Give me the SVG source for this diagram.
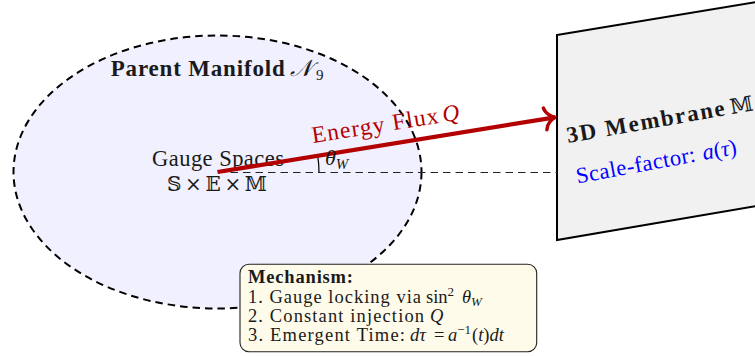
<svg xmlns="http://www.w3.org/2000/svg" width="755" height="356" viewBox="0 0 755 356">
<defs>
<style>
.rm{font-family:"Liberation Serif","DejaVu Serif",serif;}
.it{font-style:italic;}
.bf{font-weight:bold;}
.ds{font-family:"DejaVu Serif","DejaVu Sans",serif;font-weight:normal;font-style:normal;}
.ink{fill:#1a1a1a;}
</style>
<marker id="to" markerUnits="userSpaceOnUse" markerWidth="30" markerHeight="30" viewBox="-15 -15 30 30" refX="0" refY="0" orient="auto">
<path d="M-10,-11 C-9,-5 -3,-1 0,0 C-3,1 -9,5 -10,11" fill="none" stroke="#b30000" stroke-width="3.5" stroke-linecap="round" stroke-linejoin="round"/>
</marker>
</defs>
<rect width="755" height="356" fill="#ffffff"/>

<g id="manifold">
<ellipse cx="217.5" cy="172" rx="204" ry="136.5" fill="#f0f0ff" stroke="#000" stroke-width="2" stroke-dasharray="7.5 5"/>
<text class="rm bf ink" x="110.7" y="76" font-size="23" textLength="174" lengthAdjust="spacing">Parent Manifold</text>
<text class="rm it ink" x="290" y="76" font-size="23">𝒩</text>
<text class="rm ink" x="316" y="80" font-size="15">9</text>
<text class="rm ink" x="152" y="166" font-size="22.5" textLength="132" lengthAdjust="spacing">Gauge Spaces</text>
<text class="ds ink" x="167" y="190.5" font-size="20" textLength="100" lengthAdjust="spacing">𝕊 × 𝔼 × 𝕄</text>
</g>

<g id="membrane">
<polygon points="557,35 760,1.5 760,205.5 557,240" fill="#f1f1f1" stroke="#000" stroke-width="2" stroke-linejoin="miter"/>
<text class="rm bf ink" transform="translate(568,143) rotate(-10)" font-size="23"><tspan textLength="160" lengthAdjust="spacing">3D Membrane</tspan><tspan class="ds" dx="4" font-size="21">𝕄</tspan></text>
<text class="rm" transform="translate(577.5,183.5) rotate(-10.5)" font-size="22.5" fill="#0000ff"><tspan textLength="121" lengthAdjust="spacing">Scale-factor:</tspan><tspan class="it" dx="7">a</tspan>(<tspan class="it">τ</tspan>)</text>
</g>

<g id="connectors">
<line x1="218" y1="172.5" x2="557" y2="172.5" stroke="#222" stroke-width="1" stroke-dasharray="7.5 5"/>
<path d="M319,172 A101,101 0 0 0 317.7,155.9" fill="none" stroke="#000" stroke-width="1.2"/>
<line x1="217.5" y1="172" x2="555" y2="117.3" stroke="#b30000" stroke-width="4.3" marker-end="url(#to)"/>
</g>

<g id="flux-label">
<text class="rm" transform="translate(313,143) rotate(-9)" font-size="23.5" fill="#b30000"><tspan textLength="128" lengthAdjust="spacing">Energy Flux</tspan><tspan class="it" dx="3">Q</tspan></text>
<text class="rm it ink" x="325" y="165" font-size="22">θ<tspan font-size="15" dy="4">W</tspan></text>
</g>

<g id="mechanism">
<rect x="240" y="264.3" width="296.7" height="87.4" rx="9" ry="9" fill="#fffbea" stroke="#222" stroke-width="1.1"/>
<text class="rm bf ink" x="248" y="283" font-size="18.5" textLength="105" lengthAdjust="spacing">Mechanism:</text>
<text class="rm ink" x="248" y="302.5" font-size="18.5"><tspan textLength="173" lengthAdjust="spacing">1. Gauge locking via</tspan><tspan x="426">sin</tspan><tspan font-size="13" dy="-7">2</tspan><tspan class="it" x="462" dy="7">θ</tspan><tspan class="it" font-size="13" dy="3">W</tspan></text>
<text class="rm ink" x="248" y="321.7" font-size="18.5"><tspan textLength="176" lengthAdjust="spacing">2. Constant injection</tspan><tspan class="it" x="430">Q</tspan></text>
<text class="rm ink" x="248" y="341" font-size="18.5"><tspan textLength="157" lengthAdjust="spacing">3. Emergent Time:</tspan><tspan class="it" x="410">dτ</tspan><tspan x="434">=</tspan><tspan class="it" x="448">a</tspan><tspan font-size="13" dy="-7">−1</tspan><tspan x="472" dy="7">(</tspan><tspan class="it">t</tspan>)<tspan class="it">dt</tspan></text>
</g>
</svg>
